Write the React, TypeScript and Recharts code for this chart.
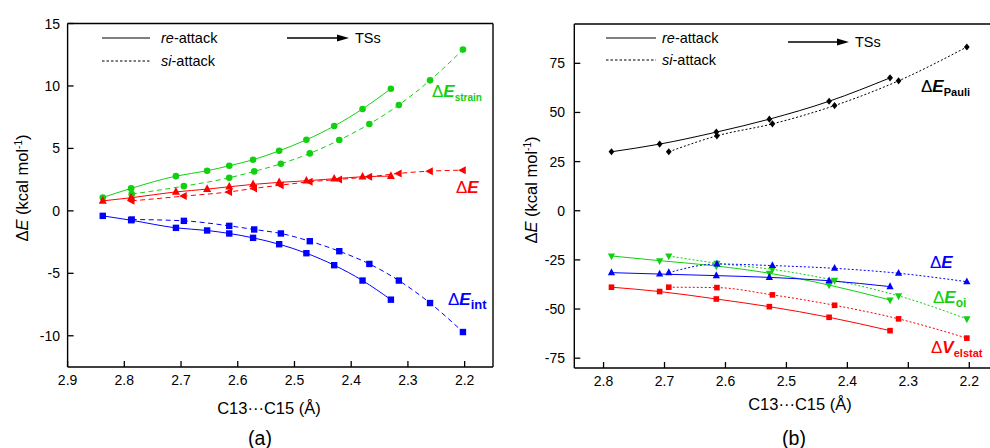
import React from "react"
import { LineChart, Line, XAxis, YAxis, ReferenceLine } from "recharts"

// (a) IRC points, C13...C15 distance in angstrom
const reDistA = [2.838, 2.788, 2.709, 2.654, 2.615, 2.573, 2.527, 2.479, 2.43, 2.38, 2.33]
const siDistA = [2.787, 2.695, 2.615, 2.571, 2.524, 2.473, 2.421, 2.368, 2.316, 2.261, 2.203]
const reStrain = [1.07, 1.8, 2.78, 3.21, 3.61, 4.09, 4.81, 5.69, 6.79, 8.16, 9.78]
const siStrain = [1.34, 1.98, 2.65, 3.16, 3.77, 4.6, 5.67, 6.95, 8.48, 10.45, 12.91]
const reTotalA = [0.8, 1.05, 1.52, 1.74, 1.93, 2.12, 2.28, 2.41, 2.57, 2.73, 2.78]
const siTotalA = [0.8, 1.18, 1.52, 1.8, 2.06, 2.33, 2.52, 2.73, 3.0, 3.18, 3.26]
const reInt = [-0.4, -0.75, -1.36, -1.57, -1.81, -2.16, -2.67, -3.39, -4.35, -5.58, -7.11]
const siInt = [-0.69, -0.8, -1.2, -1.49, -1.81, -2.43, -3.23, -4.25, -5.58, -7.38, -9.7]

// (b) EDA terms
const reDistB = [2.787, 2.708, 2.615, 2.528, 2.43, 2.33]
const siDistB = [2.693, 2.614, 2.523, 2.421, 2.316, 2.204]
const rePauli = [30.0, 33.9, 40.0, 46.6, 55.7, 67.6]
const siPauli = [30.0, 38.1, 44.2, 53.5, 66.1, 83.3]
const reOi = [-23.0, -25.4, -28.1, -31.8, -37.8, -45.4]
const siOi = [-23.0, -26.7, -29.8, -35.4, -43.3, -55.0]
const reTotalB = [-31.5, -32.2, -33.0, -33.9, -35.6, -38.6]
const siTotalB = [-31.5, -27.1, -27.9, -29.3, -31.8, -36.1]
const reElstat = [-38.9, -41.1, -44.9, -48.8, -54.2, -61.0]
const siElstat = [-38.9, -39.1, -42.8, -48.1, -55.0, -64.8]

const ticksXA = [2.9, 2.8, 2.7, 2.6, 2.5, 2.4, 2.3, 2.2]
const ticksYA = [-10, -5, 0, 5, 10, 15]
const ticksXB = [2.8, 2.7, 2.6, 2.5, 2.4, 2.3, 2.2]
const ticksYB = [-75, -50, -25, 0, 25, 50, 75]

const GREEN = "#10d010"
const RED = "#ff0000"
const BLUE = "#0000ff"
const FONT = "'Liberation Sans', Arial, sans-serif"
const TICK_LEN = 6

const pts = (xs: number[], ys: number[]) => xs.map((x, i) => ({ x, y: ys[i] }))

function makeDot(shape: string, color: string, s: number, id: string) {
  return (p: any) => {
    const { cx, cy, index } = p
    const key = `${id}-${index}`
    if (cx == null || cy == null) return <g key={key} />
    if (shape === "circle") return <circle key={key} cx={cx} cy={cy} r={s} fill={color} />
    if (shape === "square")
      return <rect key={key} x={cx - s} y={cy - s} width={2 * s} height={2 * s} fill={color} />
    let d = ""
    if (shape === "up") d = `${cx},${cy - s * 1.2} ${cx - s},${cy + s * 0.7} ${cx + s},${cy + s * 0.7}`
    if (shape === "down") d = `${cx},${cy + s * 1.2} ${cx - s},${cy - s * 0.7} ${cx + s},${cy - s * 0.7}`
    if (shape === "left") d = `${cx - s * 1.2},${cy} ${cx + s * 0.7},${cy - s} ${cx + s * 0.7},${cy + s}`
    if (shape === "diamond") d = `${cx},${cy - s} ${cx + s * 0.8},${cy} ${cx},${cy + s} ${cx - s * 0.8},${cy}`
    return <polygon key={key} points={d} fill={color} />
  }
}

// ticks point inwards, so the tick mark is drawn together with its label
function bottomTick(margin: number) {
  return (p: any) => {
    const { x, y, payload } = p
    const axisY = y - margin
    return (
      <g>
        <line x1={x} x2={x} y1={axisY} y2={axisY - TICK_LEN} stroke="#000" strokeWidth={1.3} />
        <text x={x} y={y} dy="0.71em" textAnchor="middle" fontSize={14} fontFamily={FONT} fill="#000">
          {Number(payload.value).toFixed(1)}
        </text>
      </g>
    )
  }
}

function leftTick(margin: number) {
  return (p: any) => {
    const { x, y, payload } = p
    const axisX = x + margin
    return (
      <g>
        <line x1={axisX} x2={axisX + TICK_LEN} y1={y} y2={y} stroke="#000" strokeWidth={1.3} />
        <text x={x} y={y} dy="0.36em" textAnchor="end" fontSize={14} fontFamily={FONT} fill="#000">
          {payload.value}
        </text>
      </g>
    )
  }
}

function series(id: string, data: any[], color: string, dash: string | undefined, shape: string, s: number) {
  return (
    <Line
      key={id}
      data={data}
      dataKey="y"
      type="monotone"
      stroke={color}
      strokeWidth={1}
      strokeDasharray={dash}
      dot={makeDot(shape, color, s, id)}
      activeDot={false}
      isAnimationActive={false}
    />
  )
}

function PanelA() {
  const dash = "5 3.5"
  return (
    <LineChart width={500} height={448} margin={{ top: 23.5, right: 7, bottom: 51, left: 7.6 }}>
      <XAxis
        type="number"
        dataKey="x"
        domain={[2.15, 2.9]}
        reversed
        allowDataOverflow
        ticks={ticksXA}
        height={30}
        tickSize={0}
        tickLine={false}
        tickMargin={8.5}
        tick={bottomTick(8.5)}
        stroke="#000"
        strokeWidth={1.4}
      />
      <YAxis
        type="number"
        domain={[-12.5, 15]}
        allowDataOverflow
        ticks={ticksYA}
        width={60}
        tickSize={0}
        tickLine={false}
        tickMargin={7.6}
        tick={leftTick(7.6)}
        stroke="#000"
        strokeWidth={1.4}
      />
      <ReferenceLine y={15} stroke="#000" strokeWidth={1.4} />
      <ReferenceLine x={2.15} stroke="#000" strokeWidth={1.4} />
      {series("reStrain", pts(reDistA, reStrain), GREEN, undefined, "circle", 3.3)}
      {series("siStrain", pts(siDistA, siStrain), GREEN, dash, "circle", 3.3)}
      {series("reTotalA", pts(reDistA, reTotalA), RED, undefined, "up", 4)}
      {series("siTotalA", pts(siDistA, siTotalA), RED, dash, "left", 4)}
      {series("reInt", pts(reDistA, reInt), BLUE, undefined, "square", 3.2)}
      {series("siInt", pts(siDistA, siInt), BLUE, dash, "square", 3.2)}
    </LineChart>
  )
}

function PanelB() {
  const dash = "2 2"
  return (
    <LineChart width={490} height={448} margin={{ top: 24, right: 0, bottom: 50, left: 14.3 }}>
      <XAxis
        type="number"
        dataKey="x"
        domain={[2.166, 2.848]}
        reversed
        allowDataOverflow
        ticks={ticksXB}
        height={30}
        tickSize={0}
        tickLine={false}
        tickMargin={8.5}
        tick={bottomTick(8.5)}
        stroke="#000"
        strokeWidth={1.4}
      />
      <YAxis
        type="number"
        domain={[-80, 95]}
        allowDataOverflow
        ticks={ticksYB}
        width={60}
        tickSize={0}
        tickLine={false}
        tickMargin={9.3}
        tick={leftTick(9.3)}
        stroke="#000"
        strokeWidth={1.4}
      />
      <ReferenceLine y={95} stroke="#000" strokeWidth={1.4} />
      {series("rePauli", pts(reDistB, rePauli), "#000", undefined, "diamond", 3.6)}
      {series("siPauli", pts(siDistB, siPauli), "#000", dash, "diamond", 3.6)}
      {series("reOi", pts(reDistB, reOi), GREEN, undefined, "down", 3.6)}
      {series("siOi", pts(siDistB, siOi), GREEN, dash, "down", 3.6)}
      {series("reTotalB", pts(reDistB, reTotalB), BLUE, undefined, "up", 3.6)}
      {series("siTotalB", pts(siDistB, siTotalB), BLUE, dash, "up", 3.6)}
      {series("reElstat", pts(reDistB, reElstat), RED, undefined, "square", 2.8)}
      {series("siElstat", pts(siDistB, siElstat), RED, dash, "square", 2.8)}
    </LineChart>
  )
}

function Label({ x, y, sym, sub, color, subSize = 10 }: any) {
  return (
    <text x={x} y={y} fill={color} fontSize={17} fontFamily={FONT}>
      <tspan>Δ</tspan>
      <tspan fontWeight="bold" fontStyle="italic">{sym}</tspan>
      {sub && (
        <tspan fontWeight="bold" fontSize={subSize} dy={4}>
          {sub}
        </tspan>
      )}
    </text>
  )
}

function Legend({ x1, x2, tx, y1, y2, ax1, ax2, ay, fs }: any) {
  return (
    <g fontFamily={FONT} fontSize={fs}>
      <line x1={x1} x2={x2} y1={y1} y2={y1} stroke="#000" strokeWidth={1.2} />
      <line x1={x1} x2={x2} y1={y2} y2={y2} stroke="#000" strokeWidth={1.2} strokeDasharray="2.5 2" />
      <text x={tx} y={y1 + 5}>
        <tspan fontStyle="italic">re</tspan>-attack
      </text>
      <text x={tx} y={y2 + 5}>
        <tspan fontStyle="italic">si</tspan>-attack
      </text>
      <line x1={ax1} x2={ax2 - 10} y1={ay} y2={ay} stroke="#000" strokeWidth={1.4} />
      <polygon points={`${ax2},${ay} ${ax2 - 12},${ay - 3.5} ${ax2 - 12},${ay + 3.5}`} fill="#000" />
      <text x={ax2 + 6} y={ay + 5}>TSs</text>
    </g>
  )
}

function AxisTitle({ x, y, rotate }: any) {
  return (
    <text
      x={x}
      y={y}
      fontSize={16.5}
      fontFamily={FONT}
      textAnchor="middle"
      transform={rotate ? `rotate(-90 ${x} ${y})` : undefined}
    >
      Δ<tspan fontStyle="italic">E</tspan> (kcal mol<tspan fontSize={10} dy={-6}>-1</tspan>
      <tspan dy={6}>)</tspan>
    </text>
  )
}

export default function App() {
  return (
    <div style={{ position: "absolute", left: 0, top: 0, width: 990, height: 448, background: "#fff", overflow: "hidden" }}>
      <div style={{ position: "absolute", left: 0, top: 0 }}>
        <PanelA />
      </div>
      <div style={{ position: "absolute", left: 500, top: 0 }}>
        <PanelB />
      </div>
      <svg width={990} height={448} style={{ position: "absolute", left: 0, top: 0, pointerEvents: "none" }}>
        <Legend x1={102} x2={150} tx={161} y1={38} y2={61} ax1={287} ax2={349} ay={38} fs={14.5} />
        <Legend x1={606} x2={656} tx={662} y1={38} y2={60} ax1={788} ax2={849} ay={42} fs={14.5} />

        <Label x={432} y={97} sym="E" sub="strain" color={GREEN} />
        <Label x={456} y={193} sym="E" color={RED} />
        <Label x={448} y={305} sym="E" sub="int" color={BLUE} subSize={13} />

        <Label x={921} y={92} sym="E" sub="Pauli" color="#000" subSize={11} />
        <Label x={930} y={268} sym="E" color={BLUE} />
        <Label x={933} y={303} sym="E" sub="oi" color={GREEN} subSize={12} />
        <Label x={931} y={353} sym="V" sub="elstat" color={RED} subSize={11} />

        <AxisTitle x={28} y={188} rotate />
        <AxisTitle x={537} y={190} rotate />

        <g fontFamily={FONT} textAnchor="middle">
          <text x={269} y={414} fontSize={16.5}>C13···C15 (Å)</text>
          <text x={800} y={410} fontSize={16.5}>C13···C15 (Å)</text>
          <text x={260} y={445} fontSize={19.5}>(a)</text>
          <text x={794} y={445} fontSize={19.5}>(b)</text>
        </g>
      </svg>
    </div>
  )
}
